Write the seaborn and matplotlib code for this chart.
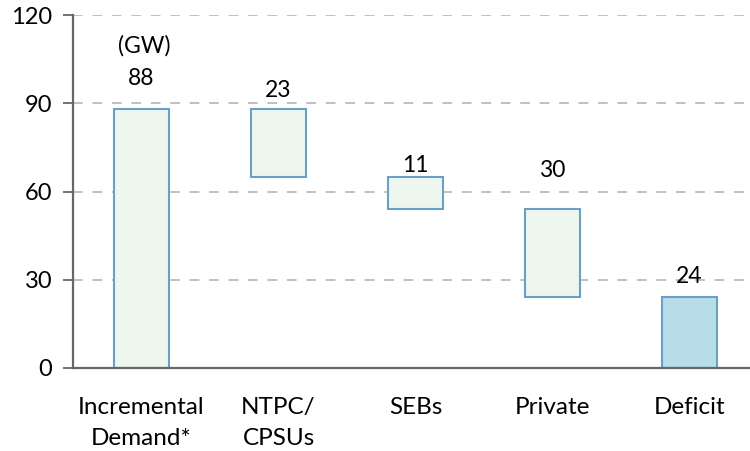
import matplotlib
matplotlib.use("Agg")
import matplotlib.pyplot as plt
import seaborn as sns
import pandas as pd

# ---- data ----
categories = ["Incremental\nDemand*", "NTPC/\nCPSUs", "SEBs", "Private", "Deficit"]
values = [88, 23, 11, 30, 24]
kinds = ["total", "decrease", "decrease", "decrease", "total"]
y_ticks = [0, 30, 60, 90, 120]
unit_label = "(GW)"

# ---- waterfall geometry from data ----
bottoms = []
level = 0
for v, k in zip(values, kinds):
    if k == "total":
        bottoms.append(0)
        level = v
    else:
        level -= v
        bottoms.append(level)
tops = [b + v for b, v in zip(bottoms, values)]
df = pd.DataFrame({"category": categories, "value": values})

# ---- style ----
sns.set_theme(style="white")
plt.rcParams["font.family"] = ["Lato", "DejaVu Sans"]
green_fill = "#EEF7EE"
deficit_fill = "#B7DDE8"
edge_col = "#6A9FC8"
spine_col = "#666666"
grid_col = "#C0C0C0"
label_offsets_pt = [22, 13.7, 8.4, 27.8, 14.9]  # vertical offsets of value labels
unit_offset_pt = 45.6

fig = plt.figure(figsize=(7.5, 4.51), dpi=100)
ax = fig.add_axes([73 / 750, 83 / 451, 677 / 750, (368 - 15.3) / 451])

sns.barplot(data=df, x="category", y="value", order=categories, ax=ax,
            color=green_fill, edgecolor=edge_col, linewidth=1.5, width=0.40,
            bottom=bottoms, saturation=1, errorbar=None, zorder=3)
for p in ax.patches:
    p.set_facecolor(green_fill)
for p in ax.patches[-1:]:
    p.set_facecolor(deficit_fill)

ax.set_yticks(y_ticks)
ax.set_yticklabels([str(t) for t in y_ticks], fontsize=17, color="#000000")

# gridlines
for t in y_ticks[1:]:
    ax.axhline(t, color=grid_col, lw=1.4, ls=(0, (5, 5)), zorder=1)

# x ticks: labels at centers, tick marks at boundaries
ax.set_xticks(range(len(categories)))
ax.set_xticklabels(categories, fontsize=17.5, color="#000000", linespacing=1.6)
ax.set_xticks([i - 0.5 for i in range(len(categories) + 1)], minor=True)
ax.tick_params(axis="x", which="major", length=0, pad=21)
ax.tick_params(axis="x", which="minor", length=7, width=1.3, color=spine_col, direction="out")
ax.tick_params(axis="y", which="major", length=7, width=1.3, color=spine_col, direction="out", pad=8, left=True)
ax.set_xlabel("")
ax.set_ylabel("")

ax.set_ylim(0, 120)
ax.set_xlim(-0.5, -0.5 + 677 / 137)

for s in ["top", "right"]:
    ax.spines[s].set_visible(False)
for s in ["left", "bottom"]:
    ax.spines[s].set_color(spine_col)
    ax.spines[s].set_linewidth(1.6)
    ax.spines[s].set_zorder(4)

# value labels
for i, (v, t, off) in enumerate(zip(values, tops, label_offsets_pt)):
    ax.annotate(str(v), xy=(i, t), xytext=(0, off), textcoords="offset points",
                ha="center", va="center", fontsize=16.5, color="#000000")
ax.annotate(unit_label, xy=(0, tops[0]), xytext=(2, unit_offset_pt), textcoords="offset points",
            ha="center", va="center", fontsize=16.5, color="#000000")

fig.savefig("out.png", dpi=100)
